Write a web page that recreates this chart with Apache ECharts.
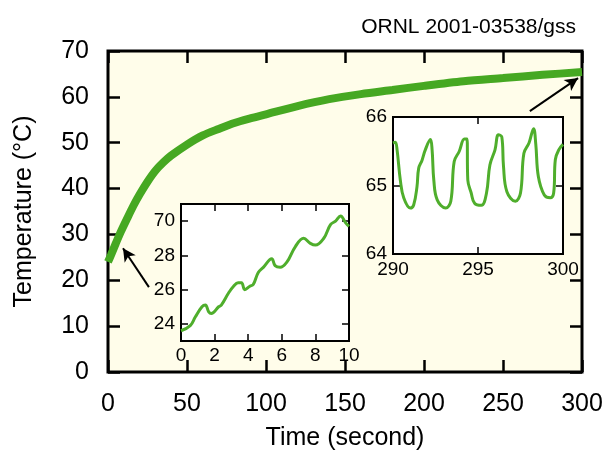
<!DOCTYPE html>
<html>
<head>
<meta charset="utf-8">
<script src="https://cdn.jsdelivr.net/npm/echarts@6/dist/echarts.min.js"></script>
<style>
  html, body { margin: 0; padding: 0; background: #fff; }
  #chart { width: 608px; height: 458px; }
</style>
</head>
<body>
<div id="chart"></div>
<script>
// main curve, 0-300 s
const mainTime = [0, 2, 5, 8, 12, 16, 20, 25, 30, 35, 40, 50, 60, 70, 80, 90, 100, 120, 140, 160, 180, 200, 225, 250, 275, 300]
const mainTemp = [24, 25.6, 28.1, 30.5, 33.4, 36.2, 38.7, 41.5, 43.9, 45.7, 47.2, 49.6, 51.6, 53.0, 54.3, 55.3, 56.2, 58.0, 59.5, 60.6, 61.5, 62.4, 63.4, 64.1, 64.8, 65.4]

// inset: first 10 s
const startTime = [0, 0.55, 0.85, 1.25, 1.45, 1.65, 1.8, 2.24, 2.4, 2.83, 3.13, 3.4, 3.6, 3.8, 4.1, 4.3, 4.6, 4.9, 5.4, 5.6, 5.9, 6.3, 6.8, 7.3, 7.7, 8.0, 8.5, 8.9, 9.2, 9.5, 9.8, 10]
const startTemp = [23.6, 23.9, 24.4, 25.0, 25.1, 24.7, 24.6, 25.0, 25.1, 25.8, 26.2, 26.4, 26.4, 26.0, 26.2, 26.3, 27.0, 27.3, 27.8, 27.4, 27.3, 27.6, 28.5, 29.0, 28.7, 28.6, 29.0, 29.8, 30.0, 30.3, 29.9, 29.7]
const startTicks = [24, 26, 28, 30]
const startTickLabels = ['24', '26', '28', '70']

// inset: last 10 s
const endTime = [290, 290.14, 290.24, 290.43, 290.63, 291.02, 291.22, 291.41, 291.51, 291.71, 291.9, 292.2, 292.3, 292.4, 292.6, 293.1, 293.4, 293.6, 293.9, 294.2, 294.35, 294.4, 294.6, 294.8, 295.2, 295.5, 295.7, 296.0, 296.2, 296.4, 296.5, 296.7, 297.2, 297.5, 297.7, 298.0, 298.27, 298.4, 298.55, 298.9, 299.25, 299.45, 299.55, 299.75, 300]
const endTemp = [65.62, 65.63, 65.52, 65.08, 64.82, 64.67, 64.72, 64.98, 65.25, 65.37, 65.52, 65.67, 65.52, 65.08, 64.79, 64.67, 64.77, 65.35, 65.5, 65.68, 65.68, 65.08, 64.89, 64.74, 64.71, 64.89, 65.3, 65.52, 65.74, 65.71, 65.28, 64.91, 64.77, 64.89, 65.47, 65.62, 65.83, 65.6, 65.13, 64.86, 64.82, 64.89, 65.38, 65.52, 65.6]

// arrows from the insets to the main curve (main axes units): tail -> head
const arrowTail = [[25.9, 18.5], [267, 56.9]]
const arrowHead = [[9.5, 27.0], [297.5, 64.1]]

const font = "'Liberation Sans', Arial, Helvetica, sans-serif"
const green = '#46a822'

function pairs(xs, ys) {
  return xs.map((x, i) => [x, ys[i]])
}

function baseAxis(grid, min, max, interval, tickLen) {
  return {
    gridIndex: grid, type: 'value', min: min, max: max, interval: interval,
    splitLine: { show: false },
    axisLine: { show: false, onZero: false }, // border comes from the grid
    axisTick: { inside: true, length: tickLen, lineStyle: { color: '#000', width: grid === 0 ? 2.5 : 1.5 } }
  }
}

// bottom axis with labels plus top axis with ticks only
function xAxes(grid, min, max, interval, tickLen, fontSize, margin, extra) {
  return [
    Object.assign(baseAxis(grid, min, max, interval, tickLen), {
      position: 'bottom',
      axisLabel: { color: '#000', fontFamily: font, fontSize: fontSize, margin: margin }
    }, extra || {}),
    Object.assign(baseAxis(grid, min, max, interval, tickLen), { position: 'top', axisLabel: { show: false } })
  ]
}

// left axis with labels plus right axis with ticks only
function yAxes(grid, min, max, interval, tickLen, fontSize, margin, extra) {
  return [
    Object.assign(baseAxis(grid, min, max, interval, tickLen), {
      position: 'left',
      axisLabel: { color: '#000', fontFamily: font, fontSize: fontSize, margin: margin }
    }, extra || {}),
    Object.assign(baseAxis(grid, min, max, interval, tickLen), { position: 'right', axisLabel: { show: false } })
  ]
}

function initChart() {
  const chart = echarts.init(document.getElementById('chart'))

  const startY = yAxes(1, 23, 31, 1, 7, 19, 6)
  startY.forEach(a => { a.axisTick.customValues = startTicks })
  startY[0].axisLabel.customValues = startTicks
  startY[0].axisLabel.formatter = v => startTickLabels[startTicks.indexOf(v)]

  const option = {
    animation: false,
    title: {
      text: 'ORNL 2001-03538/gss',
      right: 27, top: 12,
      textStyle: { color: '#000', fontFamily: font, fontSize: 21, fontWeight: 'normal' }
    },
    grid: [
      { left: 108, top: 51, width: 474, height: 321, show: true, backgroundColor: '#fffdea', borderColor: '#000', borderWidth: 3 },
      { left: 181, top: 204, width: 168, height: 137, show: true, backgroundColor: '#fff', borderColor: '#000', borderWidth: 2 },
      { left: 393, top: 117, width: 170, height: 137, show: true, backgroundColor: '#fff', borderColor: '#000', borderWidth: 2 }
    ],
    xAxis: [].concat(
      xAxes(0, 0, 300, 50, 12, 25, 20, {
        name: 'Time (second)', nameLocation: 'middle', nameGap: 54,
        nameTextStyle: { color: '#000', fontFamily: font, fontSize: 25 }
      }),
      xAxes(1, 0, 10, 2, 7, 19, 5),
      xAxes(2, 290, 300, 5, 7, 19, 6)
    ),
    yAxis: [].concat(
      yAxes(0, 0, 70, 10, 12, 25, 19, {
        name: 'Temperature (°C)', nameLocation: 'middle', nameGap: 71,
        nameTextStyle: { color: '#000', fontFamily: font, fontSize: 25 }
      }),
      startY,
      yAxes(2, 64, 66, 1, 7, 19, 6)
    ),
    series: [
      {
        type: 'line', xAxisIndex: 0, yAxisIndex: 0, smooth: 0.3, symbol: 'none',
        data: pairs(mainTime, mainTemp),
        lineStyle: { color: green, width: 8 },
        markLine: {
          silent: true, symbol: ['none', 'arrow'], symbolSize: [10, 13],
          label: { show: false },
          lineStyle: { color: '#000', width: 2, type: 'solid' },
          data: arrowTail.map((s, i) => [{ coord: s }, { coord: arrowHead[i] }])
        }
      },
      {
        type: 'line', xAxisIndex: 2, yAxisIndex: 2, smooth: 0.4, symbol: 'none',
        data: pairs(startTime, startTemp),
        lineStyle: { color: '#4fae2c', width: 3 }
      },
      {
        type: 'line', xAxisIndex: 4, yAxisIndex: 4, smooth: 0.4, symbol: 'none',
        data: pairs(endTime, endTemp),
        lineStyle: { color: '#4fae2c', width: 3 }
      }
    ]
  }
  chart.setOption(option)
}

initChart()
</script>
</body>
</html>
